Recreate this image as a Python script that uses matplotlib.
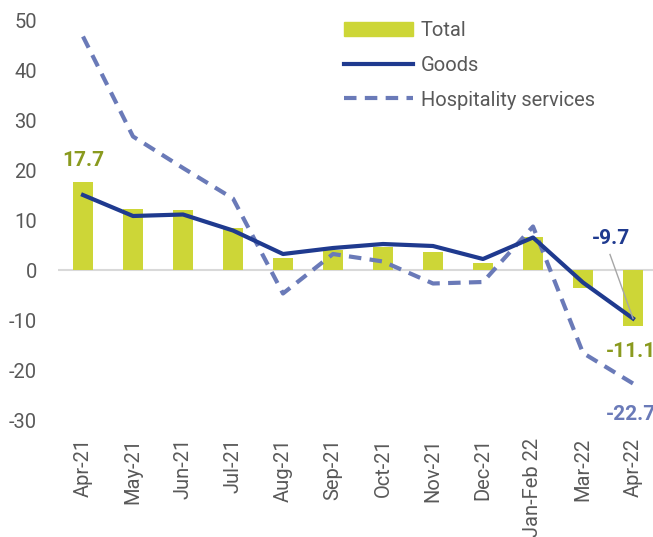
import numpy as np
import matplotlib
matplotlib.use("Agg")
import matplotlib.pyplot as plt
from matplotlib.patches import Patch
from matplotlib.lines import Line2D

plt.rcParams['font.family'] = ['Roboto', 'DejaVu Sans']

categories = ['Apr-21', 'May-21', 'Jun-21', 'Jul-21', 'Aug-21', 'Sep-21',
              'Oct-21', 'Nov-21', 'Dec-21', 'Jan-Feb 22', 'Mar-22', 'Apr-22']
total = [17.7, 12.2, 12.0, 8.4, 2.4, 4.0, 4.7, 3.7, 1.5, 6.6, -3.6, -11.1]
goods = [15.0, 10.8, 11.1, 7.9, 3.2, 4.4, 5.2, 4.8, 2.2, 6.5, -2.5, -9.7]
hospitality = [46.7, 26.7, 20.4, 14.3, -4.7, 3.2, 1.7, -2.7, -2.4, 8.7, -16.6, -22.7]
yticks = [-30, -20, -10, 0, 10, 20, 30, 40, 50]

bar_col = '#CDD637'
goods_col = '#1F3A8F'
hosp_col = '#6A7AB8'
olive = '#8A9A1F'
grey = '#595959'

fig = plt.figure(figsize=(6.53, 5.37), dpi=100)
ax = fig.add_axes([58 / 653, 117 / 537, 600 / 653, 400 / 537])

x = np.arange(len(categories))
ax.bar(x, total, width=0.4, color=bar_col, zorder=2)
ax.axhline(0, color='#D9D9D9', lw=1.5, zorder=1)
ax.plot(x, goods, color=goods_col, lw=3, zorder=4, solid_joinstyle='round')
ax.plot(x, hospitality, color=hosp_col, lw=3, ls=(0, (3, 2)), zorder=3)

ax.set_xlim(-0.5, len(categories) - 0.5)
ax.set_ylim(-30, 50)
ax.set_yticks(yticks)
ax.set_yticklabels([str(v) for v in yticks])
ax.set_xticks(x)
ax.set_xticklabels(categories, rotation=90)
ax.tick_params(axis='both', length=0, labelsize=14.5, labelcolor=grey)
ax.tick_params(axis='y', pad=15)
ax.tick_params(axis='x', pad=13)
for s in ax.spines.values():
    s.set_visible(False)

# data labels (last ones run off the right edge, as in the source)
ax.text(x[0], total[0] + 2.2, f'{total[0]:.1f}', color=olive, fontsize=15,
        fontweight='bold', ha='center', va='bottom')
ax.text(x[-1] - 0.82, goods[-1] + 14.0, f'{goods[-1]:.1f}', color=goods_col,
        fontsize=15, fontweight='bold', ha='left', va='bottom')
ax.plot([x[-1] - 0.46, x[-1]], [goods[-1] + 12.8, goods[-1]], color='#A6A6A6',
        lw=1, zorder=5)
ax.text(x[-1] - 0.54, total[-1] - 5.2, f'{total[-1]:.1f}', color=olive,
        fontsize=15, fontweight='bold', ha='left', va='center')
ax.text(x[-1] - 0.54, hospitality[-1] - 6.3, f'{hospitality[-1]:.1f}',
        color=hosp_col, fontsize=15, fontweight='bold', ha='left', va='center')

handles = [Patch(color=bar_col, label='Total'),
           Line2D([], [], color=goods_col, lw=3, label='Goods'),
           Line2D([], [], color=hosp_col, lw=3, ls=(0, (3, 2)),
                  label='Hospitality services')]
leg = fig.legend(handles=handles, loc='upper left',
                 bbox_to_anchor=(326 / 653, 1 - 3 / 537), frameon=False,
                 fontsize=14.5, handlelength=3.4, handleheight=0.7,
                 labelspacing=0.78, handletextpad=0.4)
for t in leg.get_texts():
    t.set_color(grey)

fig.savefig('out.png', dpi=100)
